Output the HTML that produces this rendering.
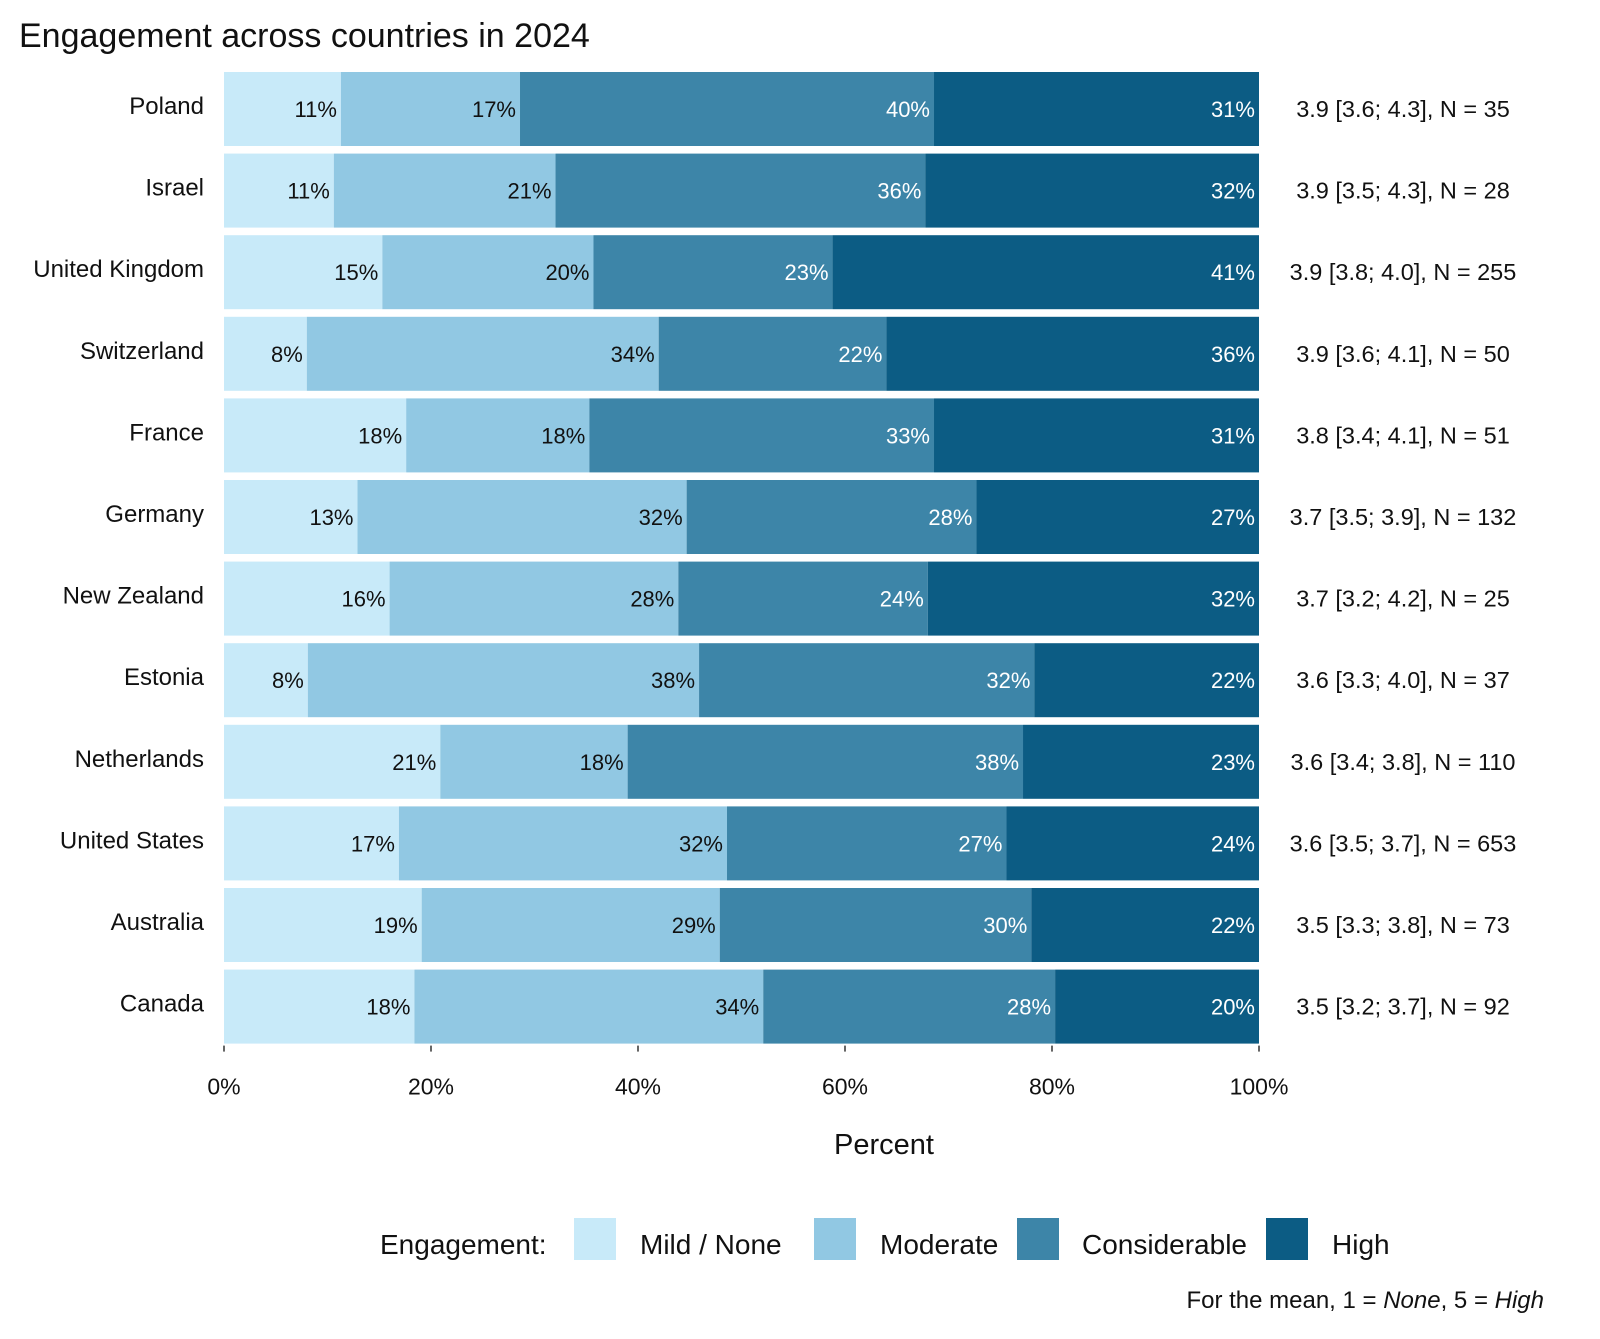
<!DOCTYPE html>
<html><head><meta charset="utf-8"><style>
body{margin:0;background:#fff}
svg text{font-family:"Liberation Sans","DejaVu Sans",sans-serif}
</style></head><body>
<svg id="chart" width="1600" height="1334" xmlns="http://www.w3.org/2000/svg">
<rect width="1600" height="1334" fill="#fff"/>
<text x="19" y="47" font-size="34" fill="#111">Engagement across countries in 2024</text>
<g id="bars"></g><g id="axis"></g><g id="legend"></g>
<text x="884" y="1154" font-size="29" text-anchor="middle" fill="#111">Percent</text>
<text x="1544" y="1308" font-size="24" text-anchor="end" fill="#111">For the mean, 1 = <tspan font-style="italic">None</tspan>, 5 = <tspan font-style="italic">High</tspan></text>
</svg>
<script>
const countries=["Poland","Israel","United Kingdom","Switzerland","France","Germany","New Zealand","Estonia","Netherlands","United States","Australia","Canada"];
const mild=[11.3,10.6,15.3,8.0,17.6,12.9,16.0,8.1,20.9,16.9,19.1,18.4];
const moderate=[17.3,21.4,20.4,34.0,17.7,31.8,27.9,37.8,18.1,31.7,28.8,33.7];
const considerable=[40.0,35.7,23.1,22.0,33.3,28.0,24.1,32.4,38.2,27.0,30.1,28.2];
const high=[31.4,32.2,41.2,36.0,31.4,27.3,32.0,21.7,22.8,24.4,22.0,19.7];
const summaries=["3.9 [3.6; 4.3], N = 35","3.9 [3.5; 4.3], N = 28","3.9 [3.8; 4.0], N = 255","3.9 [3.6; 4.1], N = 50","3.8 [3.4; 4.1], N = 51","3.7 [3.5; 3.9], N = 132","3.7 [3.2; 4.2], N = 25","3.6 [3.3; 4.0], N = 37","3.6 [3.4; 3.8], N = 110","3.6 [3.5; 3.7], N = 653","3.5 [3.3; 3.8], N = 73","3.5 [3.2; 3.7], N = 92"];
const tickValues=[0,20,40,60,80,100];
const levelNames=["Mild / None","Moderate","Considerable","High"];
const colors=["#c8eaf9","#91c8e3","#3d85a8","#0c5c84"];
const textColors=["#111","#111","#fff","#fff"];
const NS="http://www.w3.org/2000/svg";
const X0=224,X1=1259,Y0=72,PITCH=81.6,BH=74;
const x=v=>X0+(X1-X0)*v/100;
const y=i=>Y0+i*PITCH;
function mk(tag,attrs,parent,txt){const e=document.createElementNS(NS,tag);for(const k in attrs)e.setAttribute(k,attrs[k]);if(txt!==undefined)e.textContent=txt;parent.appendChild(e);return e;}
const series=[mild,moderate,considerable,high];
const gb=document.getElementById('bars');
countries.forEach((c,i)=>{
  const vals=series.map(s=>s[i]);const tot=vals.reduce((a,b)=>a+b,0);
  let cum=0;
  vals.forEach((v,k)=>{
    const a=cum/tot*100;cum+=v;const b=cum/tot*100;
    const r=mk('rect',{x:x(a),y:y(i),width:x(b)-x(a),height:BH,fill:colors[k]},gb);
    
    
    const t=mk('text',{x:x(b)-4,y:y(i)+BH/2+8,'font-size':22,'text-anchor':'end',fill:textColors[k]},gb,Math.round(v)+'%');
    
    
  });
  const cl=mk('text',{x:204,y:y(i)+BH/2+5,'font-size':24,'text-anchor':'end',fill:'#111'},gb,c);
  
  
  const sl=mk('text',{x:1403,y:y(i)+BH/2+8,'font-size':23.5,'text-anchor':'middle',fill:'#111'},gb,summaries[i]);
  
  
});
const ga=document.getElementById('axis');
const axisBottom=y(countries.length-1)+BH;
tickValues.forEach(v=>{
  const l=mk('line',{x1:x(v),x2:x(v),y1:axisBottom+2,y2:axisBottom+8,stroke:'#333','stroke-width':1.5},ga);
  
  
  const t=mk('text',{x:x(v),y:axisBottom+51,'font-size':23,'text-anchor':'middle',fill:'#111'},ga,v+'%');
  
  
});
const gl=document.getElementById('legend');
const lt=mk('text',{x:380,y:1254,'font-size':28,fill:'#111'},gl,'Engagement:');


const boxX=[574,814,1017,1266],labX=[640,880,1082,1332];
levelNames.forEach((n,k)=>{
  const r=mk('rect',{x:boxX[k],y:1218,width:42,height:42,fill:colors[k]},gl);
  
  
  const t=mk('text',{x:labX[k],y:1254,'font-size':28,fill:'#111'},gl,n);
  
  
});
</script>
</body></html>
